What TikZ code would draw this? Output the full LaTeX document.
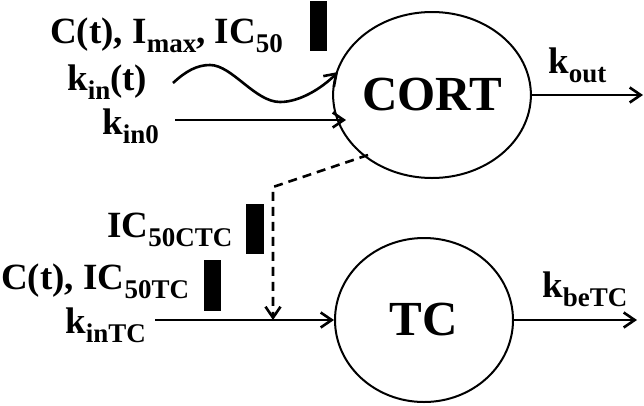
\documentclass[tikz,border=0pt]{standalone}
\usepackage{fontspec}
\setmainfont{Liberation Serif}
\usetikzlibrary{shapes.geometric,arrows.meta}
\newcommand{\lo}[1]{\raisebox{-9pt}{\fontsize{27}{27}\selectfont #1}}
\tikzset{
  lbl/.style={anchor=base west,inner sep=0pt,font=\fontsize{37}{37}\selectfont\bfseries},
  comp/.style={ellipse,draw,line width=2pt,inner sep=0pt,font=\fontsize{49}{49}\selectfont\bfseries},
  flow/.style={line width=2.6pt,-{Straight Barb[length=11pt,width=15pt]}},
  blk/.style={fill=black,draw=none},
  dsh/.style={flow,dash pattern=on 9pt off 6pt}
}
\begin{document}
\begin{tikzpicture}[x=1pt,y=-1pt]
\useasboundingbox (0,0) rectangle (644,405);
% compartments
\node[comp,minimum width=178pt,minimum height=166pt] (CORT) at (432,95) {CORT};
\node[comp,minimum width=178pt,minimum height=164pt] (TC) at (424,320) {TC};
% labels
\node[lbl] (l1) at (50,43) {C(t), I\lo{max}, IC\lo{50}};
\node[lbl] (l2) at (67,90) {k\lo{in}(t)};
\node[lbl] (l3) at (102,134) {k\lo{in0}};
\node[lbl] (l4) at (548,73) {k\lo{out}};
\node[lbl] (l5) at (107,237) {IC\lo{50CTC}};
\node[lbl] (l6) at (1,289) {C(t), IC\lo{50TC}};
\node[lbl] (l7) at (65,333) {k\lo{inTC}};
\node[lbl] (l8) at (542,297) {k\lo{beTC}};
% inhibition bars
\path[blk] (310,1) rectangle (327,51);
\path[blk] (246,204) rectangle (264,254);
\path[blk] (204,260) rectangle (221,311);
% coordinates
\coordinate (w0) at (173,83);
\coordinate (w1) at (338,72);
\coordinate (s0) at (175,120);
\coordinate (s1) at (346,120);
\coordinate (d0) at (368,155);
\coordinate (d1) at (273,187);
\coordinate (d2) at (273,320);
\coordinate (t0) at (155,320);
\coordinate (o1) at (643,95);
\coordinate (o2) at (637,320);
% connectors
\draw[flow] (w0) .. controls (186,71) and (197,65) .. (210,65)
  .. controls (232,65) and (255,102) .. (280,102)
  .. controls (300,102) and (322,88) .. (w1);
\draw[flow] (s0) -- (s1);
\draw[dsh] (d0) -- (d1) -- (d2);
\draw[flow] (t0) -- (TC.west);
\draw[flow] (CORT.east) -- (o1);
\draw[flow] (TC.east) -- (o2);
\end{tikzpicture}
\end{document}
